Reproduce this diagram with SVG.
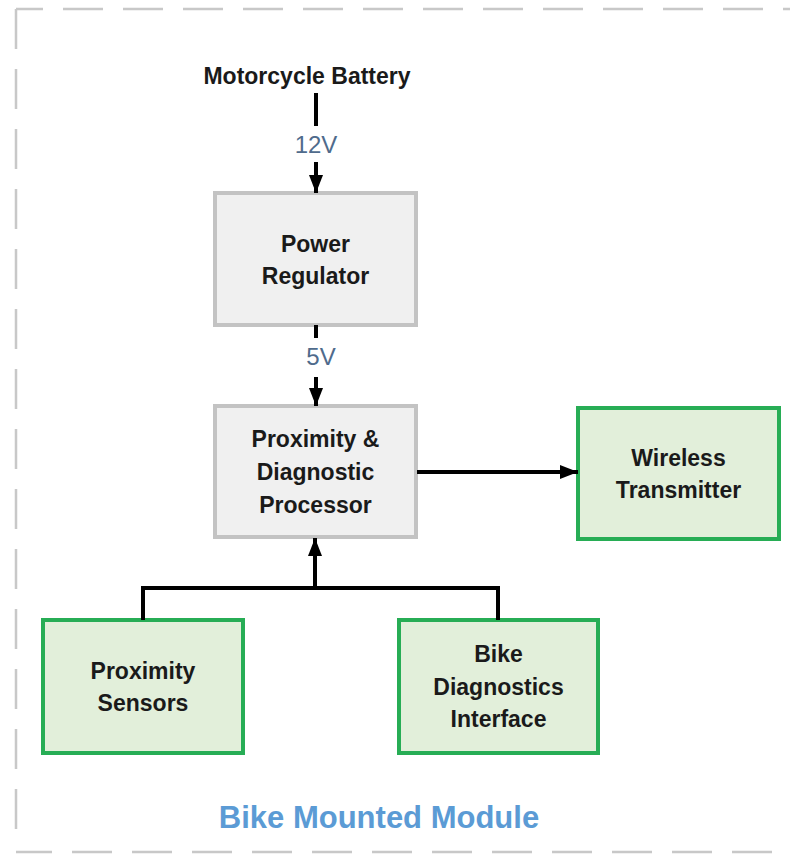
<svg xmlns="http://www.w3.org/2000/svg" width="790" height="855" viewBox="0 0 790 855">
<defs>
<style>
.border{stroke:#c8c8c8;stroke-width:2.5;fill:none;stroke-dasharray:40 20}
.gray{fill:#f0f0f0;stroke:#c3c3c3;stroke-width:4}
.green{fill:#e2efda;stroke:#27ad55;stroke-width:4}
.lbl{font-family:"Liberation Sans",Arial,sans-serif;font-size:23px;font-weight:bold;fill:#1a1a1a;text-anchor:middle}
.volt{font-family:"Liberation Sans",Arial,sans-serif;font-size:24px;fill:#4f6b8c;text-anchor:middle}
.conn{stroke:#000;stroke-width:4;fill:none}
.title{font-family:"Liberation Sans",Arial,sans-serif;font-size:31px;font-weight:bold;fill:#5b9bd5;text-anchor:middle}
</style>
<marker id="ah" viewBox="0 0 18 14" refX="18" refY="7" markerWidth="18" markerHeight="14" markerUnits="userSpaceOnUse" orient="auto">
<path d="M0,0 L18,7 L0,14 z" fill="#000"/>
</marker>
</defs>
<rect width="790" height="855" fill="#fff"/>
<g id="frame">
<line class="border" x1="16" y1="9" x2="800" y2="9" stroke-dashoffset="13"/>
<line class="border" x1="16" y1="9" x2="16" y2="830"/>
<line class="border" x1="16" y1="852" x2="800" y2="852" stroke-dashoffset="4"/>
<text class="title" x="379" y="828">Bike Mounted Module</text>
</g>
<g id="battery">
<text class="lbl" x="307" y="84" font-size="24">Motorcycle Battery</text>
</g>
<g id="power-regulator">
<rect class="gray" x="215" y="193" width="201" height="132"/>
<text class="lbl" x="315.5" y="252">Power</text>
<text class="lbl" x="315.5" y="284">Regulator</text>
</g>
<g id="processor">
<rect class="gray" x="215" y="406" width="201" height="131"/>
<text class="lbl" x="315.5" y="447">Proximity &amp;</text>
<text class="lbl" x="315.5" y="480">Diagnostic</text>
<text class="lbl" x="315.5" y="513">Processor</text>
</g>
<g id="wireless-transmitter">
<rect class="green" x="578" y="408" width="201" height="131"/>
<text class="lbl" x="678.5" y="466">Wireless</text>
<text class="lbl" x="678.5" y="498">Transmitter</text>
</g>
<g id="proximity-sensors">
<rect class="green" x="43" y="620" width="200" height="133"/>
<text class="lbl" x="143" y="679">Proximity</text>
<text class="lbl" x="143" y="711">Sensors</text>
</g>
<g id="bike-diagnostics">
<rect class="green" x="399" y="620" width="199" height="133"/>
<text class="lbl" x="498.5" y="662">Bike</text>
<text class="lbl" x="498.5" y="695">Diagnostics</text>
<text class="lbl" x="498.5" y="727">Interface</text>
</g>
<g id="connectors">
<line class="conn" x1="316" y1="93" x2="316" y2="126"/>
<text class="volt" x="316" y="153">12V</text>
<line class="conn" x1="316" y1="162" x2="316" y2="193" marker-end="url(#ah)"/>
<line class="conn" x1="316" y1="325" x2="316" y2="338"/>
<text class="volt" x="321" y="365">5V</text>
<line class="conn" x1="316" y1="377" x2="316" y2="406" marker-end="url(#ah)"/>
<line class="conn" x1="417" y1="472" x2="578" y2="472" marker-end="url(#ah)"/>
<path class="conn" d="M143,620 L143,588 L498,588 L498,620"/>
<line class="conn" x1="315" y1="588" x2="315" y2="538" marker-end="url(#ah)"/>
</g>
</svg>
